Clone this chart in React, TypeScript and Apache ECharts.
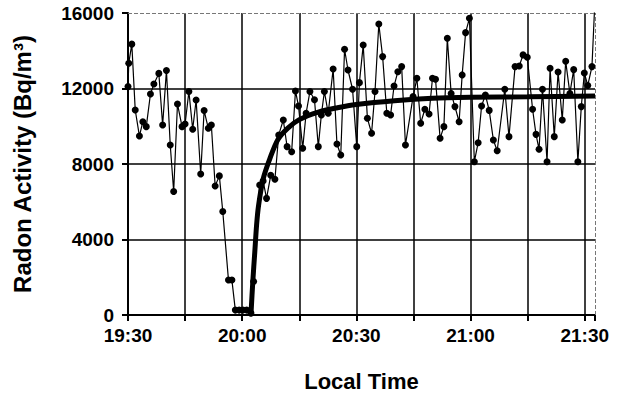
import React, { useEffect, useRef } from "react";
import * as echarts from "echarts";

// minutes after 19:30
const obsMinutes = [
  0.0, 0.2, 1.0, 1.9, 3.0, 3.9, 4.8, 5.9, 6.8, 8.1, 9.1, 10.1, 11.1, 12.0, 13.0, 14.2, 15.0, 16.0, 17.0, 17.9,
  19.1, 20.0, 21.1, 21.9, 22.9, 24.0, 24.9, 26.4, 27.3, 28.2, 29.2, 30.2, 31.2, 32.3, 33.0, 34.6, 35.5, 36.4,
  37.5, 38.6, 39.6, 40.8, 41.8, 43.0, 44.0, 44.8, 45.9, 46.8, 47.8, 49.0, 50.0, 50.8, 51.6, 52.6, 53.9, 54.9,
  55.9, 56.9, 57.8, 59.0, 60.1, 60.8, 61.8, 62.9, 64.0, 64.9, 65.9, 66.9, 68.0, 69.0, 69.9, 70.9, 71.9, 72.9,
  74.9, 75.9, 76.9, 78.0, 79.1, 80.0, 80.8, 82.0, 83.0, 83.9, 84.9, 85.9, 87.0, 87.8, 88.7, 89.7, 91.0, 92.0,
  92.9, 93.9, 94.9, 96.0, 97.0, 99.0, 100.1, 101.7, 102.8, 103.8, 104.9, 106.3, 107.2, 108.0, 108.9, 110.1,
  110.9, 112.0, 113.0, 114.1, 115.0, 116.1, 117.1, 118.2, 119.1, 119.9, 120.8, 121.9, 122.6,
];
const radonValues = [
  12100, 13340, 14350, 10860, 9480, 10240, 9980, 11710, 12240, 12800, 10070, 12950, 9010, 6540, 11180, 9980, 10120, 11840, 9840, 11390,
  7470, 10830, 9890, 10070, 6830, 7370, 5480, 1850, 1850, 260, 260, 260, 260, 100, 1770, 6890, 7100, 6180,
  7400, 7190, 9540, 10330, 8920, 8650, 11870, 11070, 8830, 10690, 11840, 11400, 8920, 10600, 11840, 10690, 13030, 9060,
  8480, 14080, 12980, 11960, 8920, 12310, 14300, 10420, 9630, 11840, 15420, 13690, 10690, 10600, 12130, 12890, 13160, 9010,
  11570, 12540, 10160, 10900, 10650, 12540, 12490, 9360, 9980, 14660, 11740, 11040, 10240, 12720, 14960, 15720, 8120, 9130,
  11070, 11660, 10840, 9270, 8700, 11960, 9450, 13160, 13190, 13780, 13660, 10900, 9570, 8780, 11960, 8120,
  13070, 9450, 12870, 10330, 13440, 11740, 13000, 8120, 11040, 12820, 12160, 13160, 16300,
];

// fitted curve
const fitMinutes = [32.3, 32.8, 33.3, 33.8, 34.3, 35.5, 37.3, 39.4, 42, 45, 50, 55, 60, 70, 80, 90, 105, 122.7];
const fitValues = [0, 1800, 3300, 4800, 5800, 7200, 8300, 9300, 9900, 10350, 10750, 10980, 11150, 11350, 11480, 11530, 11560, 11600];

const startLabel = "19:30";
const yTicks = [0, 4000, 8000, 12000, 16000];

const FONT = "'Liberation Sans', Arial, sans-serif";

function fmtTime(v: number): string {
  const [h, m] = startLabel.split(":").map(Number);
  const total = h * 60 + m + Math.round(v);
  const hh = Math.floor(total / 60);
  const mm = total % 60;
  return `${hh}:${mm.toString().padStart(2, "0")}`;
}

export default function App() {
  const ref = useRef<HTMLDivElement>(null);
  useEffect(() => {
    if (!ref.current) return;
    const chart = echarts.init(ref.current, undefined, { renderer: "svg" });
    const xMax = 122.7;
    chart.setOption({
      animation: false,
      backgroundColor: "#ffffff",
      grid: { left: 128, right: 28, top: 13, bottom: 83 },
      xAxis: {
        type: "value",
        min: 0,
        max: xMax,
        interval: 15,
        name: "Local Time",
        nameLocation: "middle",
        nameGap: 55,
        nameTextStyle: { fontFamily: FONT, fontWeight: "bold", fontSize: 22, color: "#000" },
        axisLine: { show: true, lineStyle: { color: "#000", width: 2 } },
        axisTick: { show: true, length: 6, lineStyle: { color: "#000", width: 2 } },
        axisLabel: {
          margin: 11,
          fontFamily: FONT,
          fontWeight: "bold",
          fontSize: 19,
          color: "#000",
          formatter: (v: number) => (Math.abs(v % 30) < 1e-6 ? fmtTime(v) : ""),
        },
        splitLine: { show: true, showMaxLine: false, lineStyle: { color: "#000", width: 1.5 } },
      },
      yAxis: {
        type: "value",
        min: yTicks[0],
        max: yTicks[yTicks.length - 1],
        interval: 4000,
        name: "Radon Activity (Bq/m³)",
        nameLocation: "middle",
        nameGap: 94,
        nameTextStyle: { fontFamily: FONT, fontWeight: "bold", fontSize: 24, color: "#000" },
        axisLine: { show: true, lineStyle: { color: "#000", width: 2 } },
        axisTick: { show: true, length: 6, lineStyle: { color: "#000", width: 2 } },
        axisLabel: {
          margin: 14,
          fontFamily: FONT,
          fontWeight: "bold",
          fontSize: 19,
          color: "#000",
          formatter: (v: number) => String(v),
        },
        splitLine: { show: true, showMaxLine: false, lineStyle: { color: "#000", width: 1.5 } },
      },
      series: [
        {
          type: "line",
          data: obsMinutes.map((t, i) => [t, radonValues[i]]),
          symbol: "circle",
          symbolSize: 7,
          lineStyle: { color: "#000", width: 1.2 },
          itemStyle: { color: "#000" },
          clip: true,
          z: 3,
          markLine: {
            silent: true,
            symbol: "none",
            label: { show: false },
            lineStyle: { color: "#777", type: "dashed", width: 1 },
            data: [{ yAxis: yTicks[yTicks.length - 1] }, { xAxis: xMax }],
          },
        },
        {
          type: "line",
          data: fitMinutes.map((t, i) => [t, fitValues[i]]),
          symbol: "none",
          smooth: 0.3,
          lineStyle: { color: "#000", width: 5 },
          clip: true,
          z: 4,
        },
      ],
    });
    return () => chart.dispose();
  }, []);
  return <div ref={ref} style={{ position: "absolute", left: 0, top: 0, width: 623, height: 398 }} />;
}
